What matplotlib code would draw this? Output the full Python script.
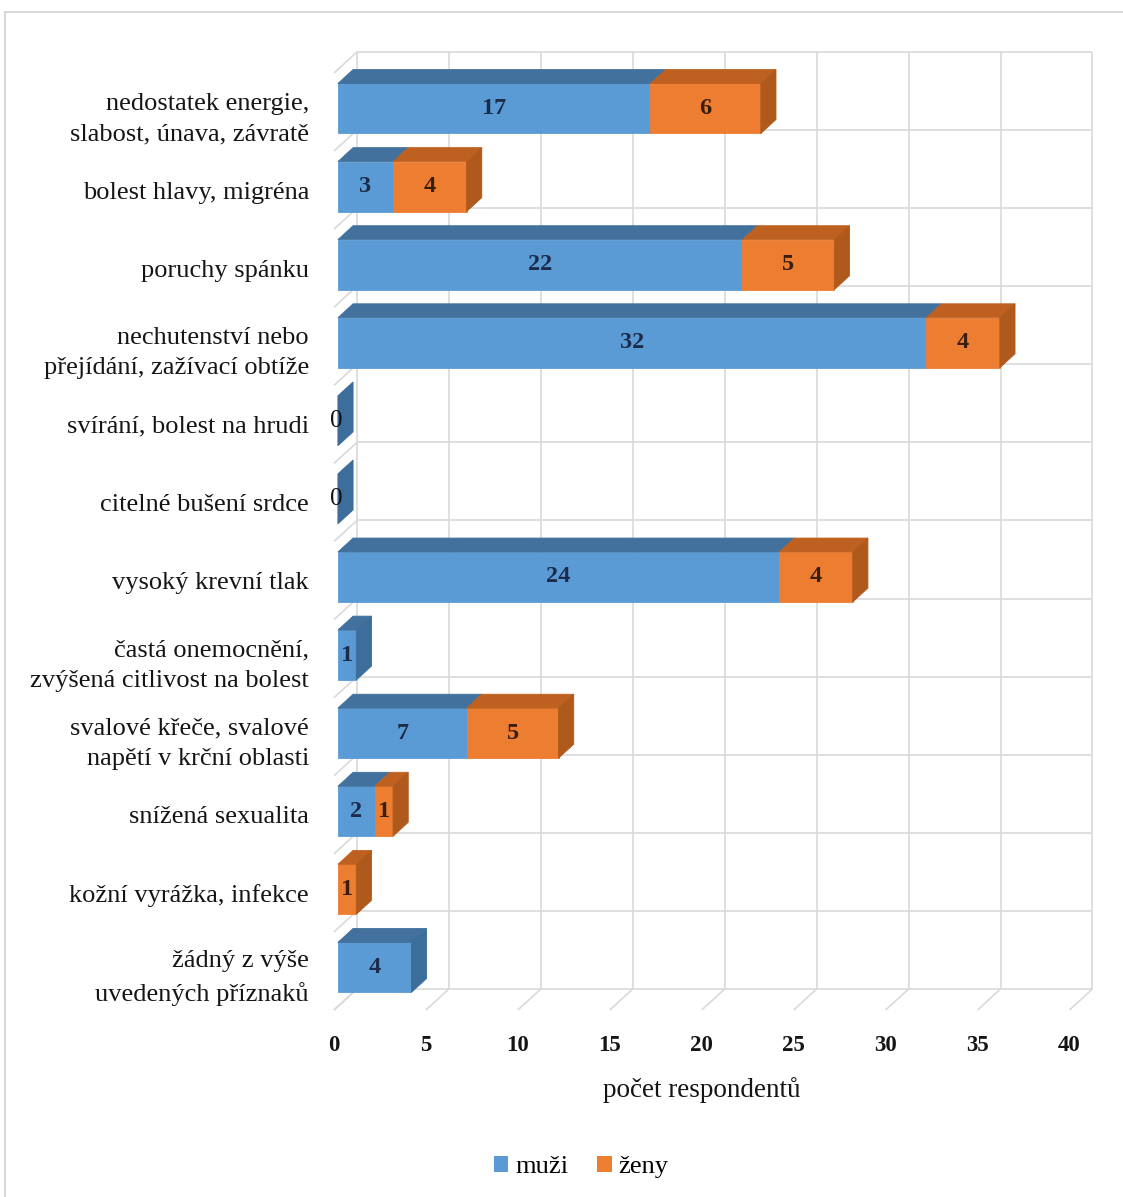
import matplotlib
matplotlib.use("Agg")
import matplotlib.pyplot as plt
from matplotlib.patches import Polygon, Patch, Rectangle

# --- data -------------------------------------------------------------
categories = [
    "nedostatek energie,\nslabost, únava, závratě",
    "bolest hlavy, migréna",
    "poruchy spánku",
    "nechutenství nebo\npřejídání, zažívací obtíže",
    "svírání, bolest na hrudi",
    "citelné bušení srdce",
    "vysoký krevní tlak",
    "častá onemocnění,\nzvýšená citlivost na bolest",
    "svalové křeče, svalové\nnapětí v krční oblasti",
    "snížená sexualita",
    "kožní vyrážka, infekce",
    "žádný z výše\nuvedených příznaků",
]
muzi = [17, 3, 22, 32, 0, 0, 24, 1, 7, 2, 0, 4]
zeny = [6, 4, 5, 4, 0, 0, 4, 0, 5, 1, 1, 0]
x_ticks = [0, 5, 10, 15, 20, 25, 30, 35, 40]
series_names = ["muži", "ženy"]
x_title = "počet respondentů"

# --- style ------------------------------------------------------------
FONT = "Liberation Serif"
BLUE = dict(front="#5B9BD5", top="#41719C", side="#3D6D9B", text="#1C2B4A")
ORANGE = dict(front="#ED7D31", top="#BE6120", side="#B0591C", text="#3A1E0C")
GRID = "#D9D9D9"
TEXT = "#151515"

# oblique depth vector in data units (value units, rows)
DX, DY = 1.25, -0.27
F0, F1 = 0.17, 0.83      # depth span occupied by the bars
HALF = 0.32              # half bar thickness in rows

W, H = 1123, 1197
fig = plt.figure(figsize=(W / 100, H / 100), dpi=100)
fig.patch.set_facecolor("white")

left, right, top, bottom = 334, 1069.5, 73, 1010
ax = fig.add_axes([left / W, 1 - bottom / H, (right - left) / W, (bottom - top) / H])
ax.set_xlim(0, 40)
ax.set_ylim(len(categories), 0)
ax.set_facecolor("none")
for s in ax.spines.values():
    s.set_visible(False)

n = len(categories)


def line(xs, ys, z=0.5):
    ax.plot(xs, ys, color=GRID, lw=1.2, zorder=z, clip_on=False, solid_capstyle="butt")


# back wall grid
for v in x_ticks:
    line([v + DX, v + DX], [DY, n + DY])
    line([v, v + DX], [n, n + DY])          # floor
for k in range(n + 1):
    line([DX, 40 + DX], [k + DY, k + DY])
    line([0, DX], [k, k + DY])              # side wall


def poly(pts, color, z):
    ax.add_patch(Polygon(pts, closed=True, facecolor=color, edgecolor=color,
                         lw=0.6, zorder=z, clip_on=False))


ddx, ddy = (F1 - F0) * DX, (F1 - F0) * DY
for i in range(n):
    yc = i + 0.5 + F0 * DY
    yt, yb = yc - HALF, yc + HALF
    start = 0
    last = BLUE
    for val, sty in ((muzi[i], BLUE), (zeny[i], ORANGE)):
        if val <= 0:
            continue
        a, b = start + F0 * DX, start + val + F0 * DX
        poly([(a, yt), (b, yt), (b, yb), (a, yb)], sty["front"], 2)
        poly([(a, yt), (b, yt), (b + ddx, yt + ddy), (a + ddx, yt + ddy)], sty["top"], 2)
        ax.text((a + b) / 2, yc, str(val), ha="center", va="center",
                fontsize=17.5, fontweight="bold", family=FONT, color=sty["text"], zorder=5)
        start += val
        last = sty
    t = start + F0 * DX
    poly([(t, yt), (t, yb), (t + ddx, yb + ddy), (t + ddx, yt + ddy)], last["side"], 2)
    if start == 0:
        ax.text(F0 * DX - 0.1, yc, "0", ha="center", va="center",
                fontsize=18, family=FONT, color="#111111", zorder=5)

# axes labels
ax.set_xticks(x_ticks)
ax.set_xticklabels([str(v) for v in x_ticks], fontsize=16.5, fontweight="bold",
                   family=FONT, color=TEXT)
ax.set_yticks([i + 0.5 for i in range(n)])
ax.set_yticklabels(categories, fontsize=19, family=FONT, color=TEXT,
                   linespacing=1.5)
ax.tick_params(axis="x", length=0, pad=18)
ax.tick_params(axis="y", length=0, pad=18)
ax.set_xlabel(x_title, fontsize=19.5, family=FONT, color=TEXT, labelpad=15)

# legend
handles = [Patch(facecolor=BLUE["front"], edgecolor="none"),
           Patch(facecolor=ORANGE["front"], edgecolor="none")]
fig.legend(handles, series_names, loc="center", bbox_to_anchor=(581 / W, 1 - 1167 / H),
           ncol=2, frameon=False, prop={"family": FONT, "size": 19},
           handlelength=0.55, handleheight=0.55, handletextpad=0.25, columnspacing=1.1)

# chart border
fig.add_artist(Rectangle((5 / W, -0.02), 1.1, 1 - 12 / H + 0.02, transform=fig.transFigure,
                         facecolor="none", edgecolor="#D0D0D0", lw=1.2))

fig.savefig("out.png", dpi=100, facecolor="white")
